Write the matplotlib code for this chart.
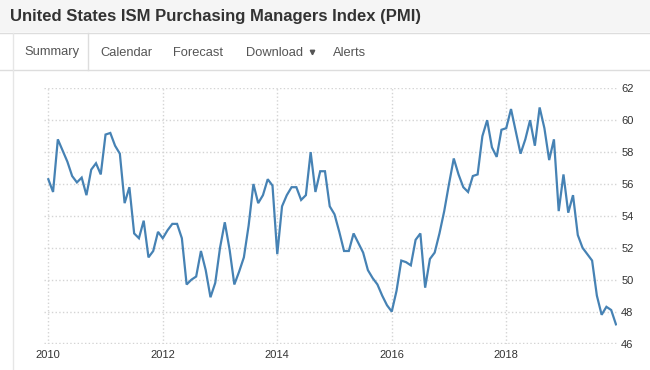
import numpy as np
import matplotlib
matplotlib.use('Agg')
import matplotlib.pyplot as plt
from matplotlib.patches import Rectangle

# === DATA (monthly ISM PMI, Jan 2010 - Dec 2019) ===
pmi_2010 = [56.3, 55.5, 58.8, 58.1, 57.4, 56.5, 56.1, 56.4, 55.3, 56.9, 57.3, 56.6]
pmi_2011 = [59.1, 59.2, 58.4, 57.9, 54.8, 55.8, 52.9, 52.6, 53.7, 51.4, 51.8, 53.0]
pmi_2012 = [52.6, 53.1, 53.5, 53.5, 52.6, 49.7, 50.0, 50.2, 51.8, 50.6, 48.9, 49.8]
pmi_2013 = [52.0, 53.6, 51.9, 49.7, 50.5, 51.4, 53.4, 56.0, 54.8, 55.3, 56.3, 55.9]
pmi_2014 = [51.6, 54.6, 55.3, 55.8, 55.8, 55.0, 55.3, 58.0, 55.5, 56.8, 56.8, 54.6]
pmi_2015 = [54.1, 53.0, 51.8, 51.8, 52.9, 52.3, 51.7, 50.6, 50.1, 49.7, 49.0, 48.4]
pmi_2016 = [48.0, 49.3, 51.2, 51.1, 50.9, 52.5, 52.9, 49.5, 51.3, 51.7, 52.9, 54.3]
pmi_2017 = [56.0, 57.6, 56.6, 55.8, 55.5, 56.5, 56.6, 59.0, 60.0, 58.3, 57.7, 59.4]
pmi_2018 = [59.5, 60.7, 59.3, 57.9, 58.8, 60.0, 58.4, 60.8, 59.5, 57.5, 58.8, 54.3]
pmi_2019 = [56.6, 54.2, 55.3, 52.8, 52.0, 51.6, 51.2, 49.0, 47.8, 48.3, 48.1, 47.2]

start_year = 2010
x_ticks = [2010, 2012, 2014, 2016, 2018]
y_ticks = [46, 48, 50, 52, 54, 56, 58, 60, 62]

title = 'United States ISM Purchasing Managers Index (PMI)'
tabs = ['Summary', 'Calendar', 'Forecast', 'Download', 'Alerts']

values = (pmi_2010 + pmi_2011 + pmi_2012 + pmi_2013 + pmi_2014 +
          pmi_2015 + pmi_2016 + pmi_2017 + pmi_2018 + pmi_2019)
months = start_year + np.arange(len(values)) / 12.0

plt.rcParams['font.family'] = ['Liberation Sans', 'DejaVu Sans']

W, H = 650, 370
fig = plt.figure(figsize=(W / 100, H / 100), dpi=100)

# === PAGE CHROME (pixel coordinates) ===
bg = fig.add_axes([0, 0, 1, 1], zorder=0)
bg.set_xlim(0, W)
bg.set_ylim(H, 0)
bg.axis('off')

bg.add_patch(Rectangle((0, 0), W, 32, facecolor='#f5f5f5', edgecolor='none'))
bg.plot([0, W], [32.5, 32.5], color='#dddddd', lw=1)
bg.plot([0, W], [69.5, 69.5], color='#dddddd', lw=1)
bg.plot([12.5, 12.5], [33, H], color='#e6e6e6', lw=1)
bg.plot([87.5, 87.5], [33, 69.5], color='#dddddd', lw=1)
bg.add_patch(Rectangle((13, 33), 74, 37, facecolor='white', edgecolor='none'))

bg.text(10, 16.5, title, fontsize=12, fontweight='bold', color='#333333',
        ha='left', va='center')

tab_x = [24, 100, 173, 246, 333]
for label, tx in zip(tabs, tab_x):
    bg.text(tx, 55.5, label, fontsize=9.3, color='#555555', ha='left', va='baseline')
bg.plot([311.5], [51.5], marker='v', markersize=3.2, color='#555555')

# === CHART ===
ax = fig.add_axes([44 / W, 1 - 343.5 / H, (617 - 44) / W, (343.5 - 88.3) / H], zorder=1)
ax.patch.set_alpha(0)
ax.plot(months, values, color='#4682b4', lw=1.6, solid_joinstyle='miter')

ax.set_xlim(2009.925, 2019.935)
ax.set_ylim(46, 62)
ax.set_xticks(x_ticks)
ax.set_xticklabels([str(t) for t in x_ticks])
ax.set_yticks(y_ticks)
ax.yaxis.tick_right()
ax.tick_params(axis='both', length=0, labelsize=8, labelcolor='#333333')
ax.tick_params(axis='x', pad=5)
ax.tick_params(axis='y', pad=3)
ax.grid(True, color='#d4d4d4', linestyle=':', linewidth=1)
ax.set_axisbelow(True)
for s in ax.spines.values():
    s.set_visible(False)

plt.savefig('out.png', dpi=100)
